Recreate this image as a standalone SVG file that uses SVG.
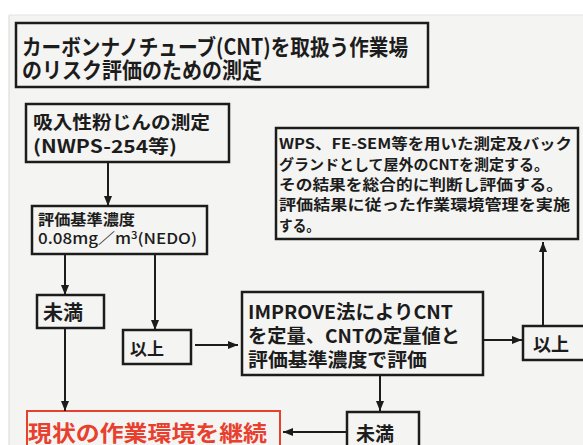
<svg xmlns="http://www.w3.org/2000/svg" width="583" height="445" viewBox="0 0 583 445">
<style>
.box{fill:none;stroke:#1c1c1c;stroke-width:2.5}
.red{fill:none;stroke:#e8402f;stroke-width:2}
.t{font-family:"Noto Sans CJK JP","Liberation Sans",sans-serif;font-weight:bold;fill:#1c1c1c}
.n{font-family:"Noto Sans CJK JP","Liberation Sans",sans-serif;font-weight:500;fill:#1c1c1c}
.tr{font-family:"Noto Sans CJK JP","Liberation Sans",sans-serif;font-weight:bold;fill:#e8402f}
.c{stroke:#1c1c1c;stroke-width:2;fill:none;marker-end:url(#ah)}
</style>
<defs>
<marker id="ah" viewBox="0 0 10 8" refX="10" refY="4" markerWidth="10" markerHeight="8" markerUnits="userSpaceOnUse" orient="auto">
<path d="M0,0 L10,4 L0,8 Z" fill="#1c1c1c"/>
</marker>
</defs>
<rect x="0" y="0" width="583" height="445" fill="#ffffff"/>
<rect x="9" y="15" width="574" height="430" fill="#f4f4f2"/>
<line x1="9" y1="15" x2="9" y2="445" stroke="#d8d8d6" stroke-width="1"/>
<line x1="9" y1="15" x2="583" y2="15" stroke="#e2e2e0" stroke-width="1"/>

<g id="title">
<rect class="box" x="16" y="23" width="412" height="64" stroke-width="2"/>
<text class="t" font-size="22" x="22" y="55" textLength="386" lengthAdjust="spacingAndGlyphs">カーボンナノチューブ(CNT)を取扱う作業場</text>
<text class="t" font-size="22" x="22" y="78" textLength="240" lengthAdjust="spacingAndGlyphs">のリスク評価のための測定</text>
</g>

<g id="n1">
<rect class="box" x="26" y="104" width="203" height="58"/>
<text class="t" font-size="18" x="33" y="129" textLength="177" lengthAdjust="spacingAndGlyphs">吸入性粉じんの測定</text>
<text class="t" font-size="18" x="33" y="153" textLength="144" lengthAdjust="spacingAndGlyphs">(NWPS-254等)</text>
</g>

<g id="n2">
<rect class="box" x="32" y="206" width="175" height="48"/>
<text class="t" font-size="15" x="38" y="225" textLength="97" lengthAdjust="spacingAndGlyphs">評価基準濃度</text>
<text class="n" font-size="15" x="38" y="244" textLength="159" lengthAdjust="spacingAndGlyphs">0.08mg／m<tspan font-size="10" dy="-5">3</tspan><tspan dy="5">(NEDO)</tspan></text>
</g>

<g id="n3">
<rect class="box" x="37" y="295" width="67" height="33"/>
<text class="t" font-size="20" x="43" y="320">未満</text>
</g>

<g id="n4">
<rect class="box" x="123" y="330" width="68" height="34"/>
<text class="t" font-size="17" x="130" y="355">以上</text>
</g>

<g id="n5">
<rect class="box" x="242" y="292" width="241" height="83"/>
<text class="t" font-size="19" x="248" y="319" textLength="205" lengthAdjust="spacingAndGlyphs">IMPROVE法によりCNT</text>
<text class="t" font-size="19" x="248" y="343" textLength="212" lengthAdjust="spacingAndGlyphs">を定量、CNTの定量値と</text>
<text class="t" font-size="19" x="248" y="367" textLength="179" lengthAdjust="spacingAndGlyphs">評価基準濃度で評価</text>
</g>

<g id="n6">
<rect class="box" x="523" y="326" width="64" height="34"/>
<text class="t" font-size="18" x="533" y="351">以上</text>
</g>

<g id="n7">
<rect class="box" x="276" y="128" width="302" height="111"/>
<text class="t" font-size="14.5" x="279" y="149" textLength="293" lengthAdjust="spacingAndGlyphs">WPS、FE-SEM等を用いた測定及バック</text>
<text class="t" font-size="14.5" x="279" y="169.5" textLength="270" lengthAdjust="spacingAndGlyphs">グランドとして屋外のCNTを測定する。</text>
<text class="t" font-size="14.5" x="279" y="190" textLength="284" lengthAdjust="spacingAndGlyphs">その結果を総合的に判断し評価する。</text>
<text class="t" font-size="14.5" x="279" y="210" textLength="291" lengthAdjust="spacingAndGlyphs">評価結果に従った作業環境管理を実施</text>
<text class="t" font-size="14.5" x="279" y="230.5" textLength="41" lengthAdjust="spacingAndGlyphs">する。</text>
</g>

<g id="n8">
<rect class="box" x="347" y="412" width="72" height="40"/>
<text class="t" font-size="19" x="356" y="441">未満</text>
</g>

<g id="n9">
<rect class="red" x="27" y="411" width="253" height="40"/>
<text class="tr" font-size="22" x="28" y="441" textLength="239" lengthAdjust="spacingAndGlyphs">現状の作業環境を継続</text>
</g>

<g id="connectors">
<line class="c" x1="108" y1="162" x2="108" y2="206"/>
<line class="c" x1="65" y1="254" x2="65" y2="295"/>
<line class="c" x1="155" y1="254" x2="155" y2="330"/>
<line class="c" x1="65" y1="328" x2="65" y2="411"/>
<line class="c" x1="195" y1="345" x2="238" y2="345"/>
<line class="c" x1="483" y1="340" x2="522" y2="340"/>
<line class="c" x1="543" y1="326" x2="543" y2="242"/>
<line class="c" x1="380" y1="375" x2="380" y2="411"/>
<line class="c" x1="347" y1="432" x2="283" y2="432"/>
</g>
</svg>
